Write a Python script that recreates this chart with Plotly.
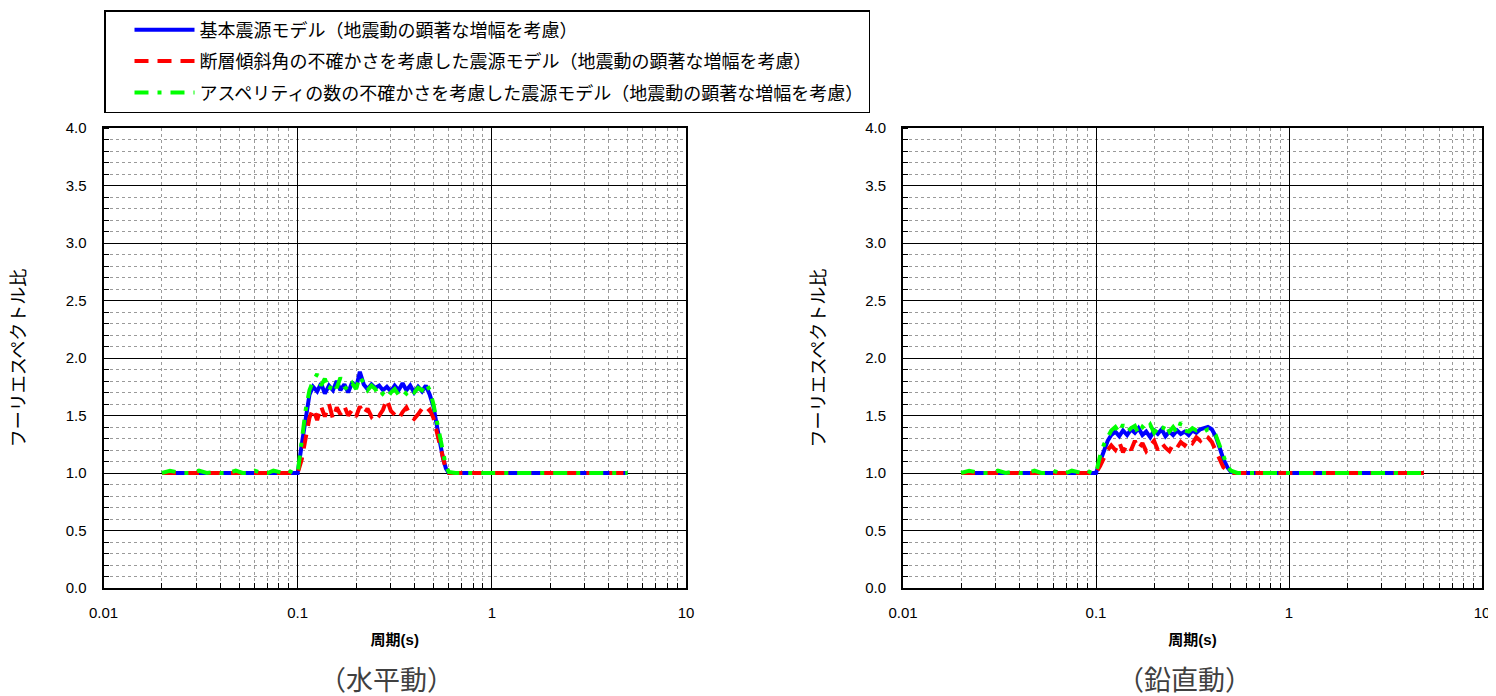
import plotly.graph_objects as go

# ---- data ----
periods = [0.02, 0.022, 0.025, 0.028, 0.031, 0.034, 0.037, 0.04, 0.044, 0.048, 0.052, 0.056, 0.06, 0.065, 0.07, 0.075, 0.08, 0.085, 0.09, 0.095, 0.1,
           0.105, 0.11, 0.115,
           0.12, 0.126, 0.132, 0.138, 0.145, 0.152, 0.159, 0.166, 0.174, 0.182,
           0.191, 0.2, 0.209, 0.219, 0.229, 0.24, 0.251, 0.263, 0.275, 0.288,
           0.302, 0.316, 0.331, 0.347, 0.363, 0.38, 0.398, 0.417, 0.437, 0.457,
           0.479, 0.5, 0.52, 0.54, 0.56, 0.58, 0.6, 0.65, 0.7, 0.8,
           0.9, 1.0, 1.2, 1.5, 2.0, 2.5, 3.0, 4.0, 5.0]

# horizontal component
h_base = [1.0, 1.0, 1.0, 1.0, 1.0, 1.0, 1.0, 1.0, 1.0, 1.0, 1.0, 1.0, 1.0, 1.0, 1.0, 1.0, 1.0, 1.0, 1.0, 1.0, 1.0,
          1.25, 1.5, 1.68,
          1.75, 1.71, 1.78, 1.69, 1.76, 1.72, 1.80, 1.72, 1.77, 1.70,
          1.79, 1.74, 1.88, 1.77, 1.73, 1.77, 1.74, 1.76, 1.72, 1.75,
          1.71, 1.76, 1.72, 1.78, 1.72, 1.76, 1.70, 1.75, 1.71, 1.76,
          1.68, 1.58, 1.42, 1.27, 1.13, 1.04, 1.0, 1.0, 1.0, 1.0,
          1.0, 1.0, 1.0, 1.0, 1.0, 1.0, 1.0, 1.0, 1.0]
h_dip = [1.0, 1.0, 1.0, 1.0, 1.0, 1.0, 1.0, 1.0, 1.0, 1.0, 1.0, 1.0, 1.0, 1.0, 1.0, 1.0, 1.0, 1.0, 1.0, 1.0, 1.0,
         1.12, 1.32, 1.48,
         1.56, 1.46, 1.58, 1.49, 1.60, 1.47, 1.57, 1.51, 1.58, 1.50,
         1.55, 1.49, 1.58, 1.51, 1.56, 1.49, 1.53, 1.50, 1.55, 1.64,
         1.54, 1.50, 1.47, 1.53, 1.57, 1.50, 1.47, 1.51, 1.56, 1.52,
         1.55, 1.48, 1.36, 1.23, 1.11, 1.03, 1.0, 1.0, 1.0, 1.0,
         1.0, 1.0, 1.0, 1.0, 1.0, 1.0, 1.0, 1.0, 1.0]
h_asp = [1.0, 1.02, 1.0, 1.0, 1.02, 1.0, 1.01, 1.0, 1.0, 1.02, 1.0, 1.0, 1.02, 1.0, 1.0, 1.02, 1.01, 1.0, 1.02, 1.0, 1.0,
         1.30, 1.55, 1.72,
         1.80, 1.86, 1.76, 1.82, 1.72, 1.79, 1.74, 1.83, 1.75, 1.72,
         1.78, 1.73, 1.84, 1.78, 1.72, 1.76, 1.73, 1.66, 1.69, 1.65,
         1.70, 1.73, 1.68, 1.72, 1.69, 1.73, 1.70, 1.74, 1.72, 1.78,
         1.72, 1.60, 1.45, 1.30, 1.16, 1.06, 1.01, 1.0, 1.0, 1.0,
         1.0, 1.0, 1.0, 1.0, 1.0, 1.0, 1.0, 1.0, 1.0]

# vertical component
v_base = [1.0, 1.0, 1.0, 1.0, 1.0, 1.0, 1.0, 1.0, 1.0, 1.0, 1.0, 1.0, 1.0, 1.0, 1.0, 1.0, 1.0, 1.0, 1.0, 1.0, 1.0,
          1.10, 1.20, 1.28,
          1.33, 1.36, 1.32, 1.37, 1.33, 1.38, 1.35, 1.39, 1.33, 1.36,
          1.31, 1.37, 1.34, 1.38, 1.32, 1.36, 1.33, 1.37, 1.34, 1.36,
          1.33, 1.37, 1.35, 1.38, 1.39, 1.40, 1.38, 1.32, 1.22, 1.12,
          1.05, 1.01, 1.0, 1.0, 1.0, 1.0, 1.0, 1.0, 1.0, 1.0,
          1.0, 1.0, 1.0, 1.0, 1.0, 1.0, 1.0, 1.0, 1.0]
v_dip = [1.0, 1.0, 1.0, 1.0, 1.0, 1.0, 1.0, 1.0, 1.0, 1.0, 1.0, 1.0, 1.0, 1.0, 1.0, 1.0, 1.0, 1.0, 1.0, 1.0, 1.0,
         1.06, 1.14, 1.20,
         1.24, 1.20, 1.27, 1.18, 1.25, 1.20, 1.28, 1.21, 1.26, 1.19,
         1.24, 1.28, 1.20, 1.26, 1.22, 1.19, 1.25, 1.22, 1.27, 1.24,
         1.29, 1.26, 1.31, 1.28, 1.33, 1.31, 1.27, 1.20, 1.12, 1.05,
         1.02, 1.0, 1.0, 1.0, 1.0, 1.0, 1.0, 1.0, 1.0, 1.0,
         1.0, 1.0, 1.0, 1.0, 1.0, 1.0, 1.0, 1.0, 1.0]
v_asp = [1.0, 1.02, 1.0, 1.0, 1.02, 1.0, 1.01, 1.0, 1.0, 1.02, 1.0, 1.0, 1.02, 1.0, 1.0, 1.02, 1.01, 1.0, 1.02, 1.0, 1.0,
         1.15, 1.25, 1.32,
         1.37, 1.40, 1.35, 1.42, 1.36, 1.39, 1.41, 1.34, 1.40, 1.37,
         1.42, 1.35, 1.39, 1.36, 1.43, 1.36, 1.40, 1.35, 1.44, 1.37,
         1.36, 1.39, 1.37, 1.38, 1.36, 1.38, 1.37, 1.33, 1.24, 1.14,
         1.06, 1.02, 1.01, 1.0, 1.0, 1.0, 1.0, 1.0, 1.0, 1.0,
         1.0, 1.0, 1.0, 1.0, 1.0, 1.0, 1.0, 1.0, 1.0]

series_names = ["基本震源モデル（地震動の顕著な増幅を考慮）",
                "断層傾斜角の不確かさを考慮した震源モデル（地震動の顕著な増幅を考慮）",
                "アスペリティの数の不確かさを考慮した震源モデル（地震動の顕著な増幅を考慮）"]
x_tickvals = [0.01, 0.1, 1, 10]
x_ticktext = ["0.01", "0.1", "1", "10"]
y_tickvals = [0.0, 0.5, 1.0, 1.5, 2.0, 2.5, 3.0, 3.5, 4.0]
x_title = "周期(s)"
y_title = "フーリエスペクトル比"
captions = ["（水平動）", "（鉛直動）"]

# ---- figure ----
FONT = "Liberation Sans, Arial, Noto Sans CJK JP, sans-serif"
W, H = 1496, 696
OFF = 8  # page body margin: figure origin sits 8 px right/down of the window origin
styles = [dict(color="#0000FF", width=4, dash="solid"),
          dict(color="#FF0000", width=4, dash="14px,9px"),
          dict(color="#00FF00", width=4, dash="14px,9px,4px,9px")]

fig = go.Figure()
for panel, data in enumerate([(h_base, h_dip, h_asp), (v_base, v_dip, v_asp)]):
    ax = "" if panel == 0 else "2"
    for i, ys in enumerate(data):
        fig.add_trace(go.Scatter(
            x=periods, y=ys, mode="lines", name=series_names[i],
            line=styles[i], xaxis="x" + ax, yaxis="y" + ax,
            showlegend=(panel == 0), legendgroup="g%d" % i))

minor_x = [m * 10 ** e for e in (-2, -1, 0) for m in range(2, 10)]

def px(x):
    return (x - OFF) / W

def py(y):
    return 1 - (y - OFF) / H

def xaxis(domain, anchor):
    return dict(type="log", domain=domain, anchor=anchor, range=[-2, 1],
                automargin=False,
                tickmode="array", tickvals=x_tickvals, ticktext=x_ticktext,
                showgrid=True, gridcolor="black", gridwidth=1,
                showline=True, linecolor="black", linewidth=2, mirror=True,
                ticks="", ticklabelstandoff=10,
                tickfont=dict(size=15, color="black", family=FONT),
                title=dict(text="<b>" + x_title + "</b>", standoff=14,
                           font=dict(size=15, color="black", family=FONT)),
                minor=dict(tickmode="array", tickvals=minor_x, showgrid=True,
                           gridcolor="#9a9a9a", griddash="dot", gridwidth=1,
                           ticks="inside", ticklen=5, tickcolor="black"),
                zeroline=False)

def yaxis(domain, anchor):
    return dict(domain=domain, anchor=anchor, range=[0, 4],
                automargin=False,
                tickmode="array", tickvals=y_tickvals, tickformat=".1f",
                showgrid=True, gridcolor="black", gridwidth=1,
                showline=True, linecolor="black", linewidth=2, mirror=True,
                ticks="", ticklabelstandoff=12,
                tickfont=dict(size=15, color="black", family=FONT),
                title=dict(text=y_title, standoff=35,
                           font=dict(size=18, color="black", family=FONT)),
                minor=dict(dtick=0.1, showgrid=True, gridcolor="#9a9a9a",
                           griddash="dot", gridwidth=1,
                           ticks="inside", ticklen=5, tickcolor="black"),
                zeroline=False)

ydom = [py(588), py(128)]
fig.update_layout(
    width=W, height=H, margin=dict(l=0, r=0, t=0, b=0, autoexpand=False),
    paper_bgcolor="white", plot_bgcolor="white",
    font=dict(family=FONT, size=14, color="black"),
    xaxis=xaxis([px(103.5), px(686)], "y"),
    yaxis=yaxis(ydom, "x"),
    xaxis2=xaxis([px(903), px(1482)], "y2"),
    yaxis2=yaxis(ydom, "x2"),
    legend=dict(x=px(104), y=py(10), xanchor="left", yanchor="top",
                bordercolor="black", borderwidth=1.5, bgcolor="white",
                font=dict(size=18, family=FONT, color="black"),
                tracegroupgap=5, itemwidth=60, indentation=24),
    annotations=[
        dict(text=captions[0], x=px(386), y=py(681), xref="paper", yref="paper",
             xanchor="center", yanchor="middle",
             showarrow=False, font=dict(size=27, color="#404040", family=FONT)),
        dict(text=captions[1], x=px(1184), y=py(681), xref="paper", yref="paper",
             xanchor="center", yanchor="middle",
             showarrow=False, font=dict(size=27, color="#404040", family=FONT)),
    ],
)

fig.write_html("out.html")
